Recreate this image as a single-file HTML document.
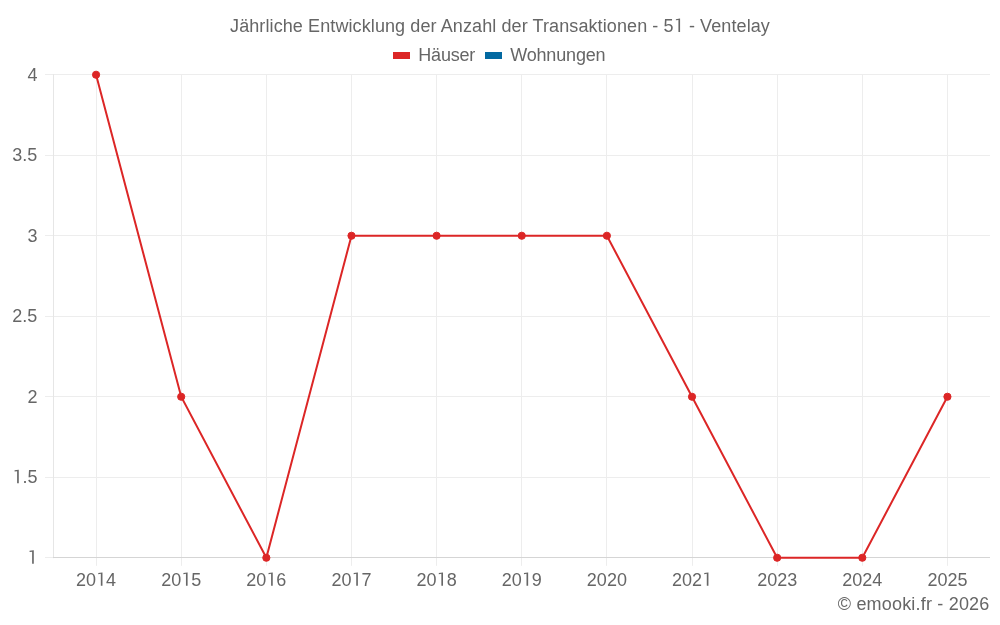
<!DOCTYPE html>
<html><head><meta charset="utf-8"><style>
html,body{margin:0;padding:0;background:#fff;width:1000px;height:625px;overflow:hidden}
svg{display:block;will-change:transform}
.t{font-family:"Liberation Sans",sans-serif;font-size:18px;fill:#666666}
.o{fill-opacity:0}
line{stroke-width:1}
</style></head><body>
<svg width="1000" height="625" viewBox="0 0 1000 625">
<line x1="45" y1="74.5" x2="990.0" y2="74.5" stroke="#ededed"/>
<line x1="45" y1="155.5" x2="990.0" y2="155.5" stroke="#ededed"/>
<line x1="45" y1="235.5" x2="990.0" y2="235.5" stroke="#ededed"/>
<line x1="45" y1="316.5" x2="990.0" y2="316.5" stroke="#ededed"/>
<line x1="45" y1="396.5" x2="990.0" y2="396.5" stroke="#ededed"/>
<line x1="45" y1="477.5" x2="990.0" y2="477.5" stroke="#ededed"/>
<line x1="45" y1="557.5" x2="990.0" y2="557.5" stroke="#ededed"/>
<line x1="96.5" y1="74.2" x2="96.5" y2="565.8" stroke="#ededed"/>
<line x1="181.5" y1="74.2" x2="181.5" y2="565.8" stroke="#ededed"/>
<line x1="266.5" y1="74.2" x2="266.5" y2="565.8" stroke="#ededed"/>
<line x1="351.5" y1="74.2" x2="351.5" y2="565.8" stroke="#ededed"/>
<line x1="436.5" y1="74.2" x2="436.5" y2="565.8" stroke="#ededed"/>
<line x1="521.5" y1="74.2" x2="521.5" y2="565.8" stroke="#ededed"/>
<line x1="606.5" y1="74.2" x2="606.5" y2="565.8" stroke="#ededed"/>
<line x1="692.5" y1="74.2" x2="692.5" y2="565.8" stroke="#ededed"/>
<line x1="777.5" y1="74.2" x2="777.5" y2="565.8" stroke="#ededed"/>
<line x1="862.5" y1="74.2" x2="862.5" y2="565.8" stroke="#ededed"/>
<line x1="947.5" y1="74.2" x2="947.5" y2="565.8" stroke="#ededed"/>
<line x1="53.5" y1="74.2" x2="53.5" y2="558.2" stroke="#e6e6e6"/>
<line x1="53.0" y1="557.5" x2="990.0" y2="557.5" stroke="#d5d5d5"/>
<polyline points="96.07,74.75 181.20,396.75 266.34,557.75 351.48,235.75 436.61,235.75 521.75,235.75 606.89,235.75 692.02,396.75 777.16,557.75 862.30,557.75 947.43,396.75" fill="none" stroke="#dc2626" stroke-width="2"/>
<circle cx="96.07" cy="74.75" r="3.6" fill="#dc2626" stroke="#dc2626"/>
<circle cx="181.20" cy="396.75" r="3.6" fill="#dc2626" stroke="#dc2626"/>
<circle cx="266.34" cy="557.75" r="3.6" fill="#dc2626" stroke="#dc2626"/>
<circle cx="351.48" cy="235.75" r="3.6" fill="#dc2626" stroke="#dc2626"/>
<circle cx="436.61" cy="235.75" r="3.6" fill="#dc2626" stroke="#dc2626"/>
<circle cx="521.75" cy="235.75" r="3.6" fill="#dc2626" stroke="#dc2626"/>
<circle cx="606.89" cy="235.75" r="3.6" fill="#dc2626" stroke="#dc2626"/>
<circle cx="692.02" cy="396.75" r="3.6" fill="#dc2626" stroke="#dc2626"/>
<circle cx="777.16" cy="557.75" r="3.6" fill="#dc2626" stroke="#dc2626"/>
<circle cx="862.30" cy="557.75" r="3.6" fill="#dc2626" stroke="#dc2626"/>
<circle cx="947.43" cy="396.75" r="3.6" fill="#dc2626" stroke="#dc2626"/>
<rect x="393" y="52" width="17" height="7" fill="#dc2626"/>
<rect x="485" y="52" width="17" height="7" fill="#0369a1"/>
<g class="t"><text x="37.4" y="80.65" text-anchor="end">4</text>
<text x="37.4" y="161.15" text-anchor="end">3.5</text>
<text x="37.4" y="241.65" text-anchor="end">3</text>
<text x="37.4" y="322.15" text-anchor="end">2.5</text>
<text x="37.4" y="402.65" text-anchor="end">2</text>
<text x="37.4" y="483.15" text-anchor="end"><tspan class="o">1</tspan>.5</text>
<text x="37.4" y="563.65" text-anchor="end"><tspan class="o">1</tspan></text>
<text x="96.07" y="585.8" text-anchor="middle">20<tspan class="o">1</tspan>4</text>
<text x="181.20" y="585.8" text-anchor="middle">20<tspan class="o">1</tspan>5</text>
<text x="266.34" y="585.8" text-anchor="middle">20<tspan class="o">1</tspan>6</text>
<text x="351.48" y="585.8" text-anchor="middle">20<tspan class="o">1</tspan>7</text>
<text x="436.61" y="585.8" text-anchor="middle">20<tspan class="o">1</tspan>8</text>
<text x="521.75" y="585.8" text-anchor="middle">20<tspan class="o">1</tspan>9</text>
<text x="606.89" y="585.8" text-anchor="middle">2020</text>
<text x="692.02" y="585.8" text-anchor="middle">202<tspan class="o">1</tspan></text>
<text x="777.16" y="585.8" text-anchor="middle">2023</text>
<text x="862.30" y="585.8" text-anchor="middle">2024</text>
<text x="947.43" y="585.8" text-anchor="middle">2025</text>
<text x="500" y="32" text-anchor="middle" letter-spacing="0.1">Jährliche Entwicklung der Anzahl der Transaktionen - 5<tspan class="o">1</tspan> - Ventelay</text>
<text x="418.3" y="61.3" letter-spacing="-0.2">Häuser</text>
<text x="510.2" y="61.3" letter-spacing="-0.17">Wohnungen</text>
<text x="989.5" y="610" text-anchor="end" letter-spacing="0.19">© emooki.fr - 2026</text></g>
<g fill="#666666"><path transform="translate(12.32 483.15)" d="M6.45 0H4.8V-11.95L2.25-11.65V-12.85L6.2-13.4H6.45Z"/><path transform="translate(27.33 563.65)" d="M6.45 0H4.8V-11.95L2.25-11.65V-12.85L6.2-13.4H6.45Z"/><path transform="translate(96.02 585.80)" d="M6.45 0H4.8V-11.95L2.25-11.65V-12.85L6.2-13.4H6.45Z"/><path transform="translate(181.15 585.80)" d="M6.45 0H4.8V-11.95L2.25-11.65V-12.85L6.2-13.4H6.45Z"/><path transform="translate(266.29 585.80)" d="M6.45 0H4.8V-11.95L2.25-11.65V-12.85L6.2-13.4H6.45Z"/><path transform="translate(351.43 585.80)" d="M6.45 0H4.8V-11.95L2.25-11.65V-12.85L6.2-13.4H6.45Z"/><path transform="translate(436.56 585.80)" d="M6.45 0H4.8V-11.95L2.25-11.65V-12.85L6.2-13.4H6.45Z"/><path transform="translate(521.70 585.80)" d="M6.45 0H4.8V-11.95L2.25-11.65V-12.85L6.2-13.4H6.45Z"/><path transform="translate(701.99 585.80)" d="M6.45 0H4.8V-11.95L2.25-11.65V-12.85L6.2-13.4H6.45Z"/><path transform="translate(673.63 32.00)" d="M6.45 0H4.8V-11.95L2.25-11.65V-12.85L6.2-13.4H6.45Z"/></g>
</svg>
</body></html>
